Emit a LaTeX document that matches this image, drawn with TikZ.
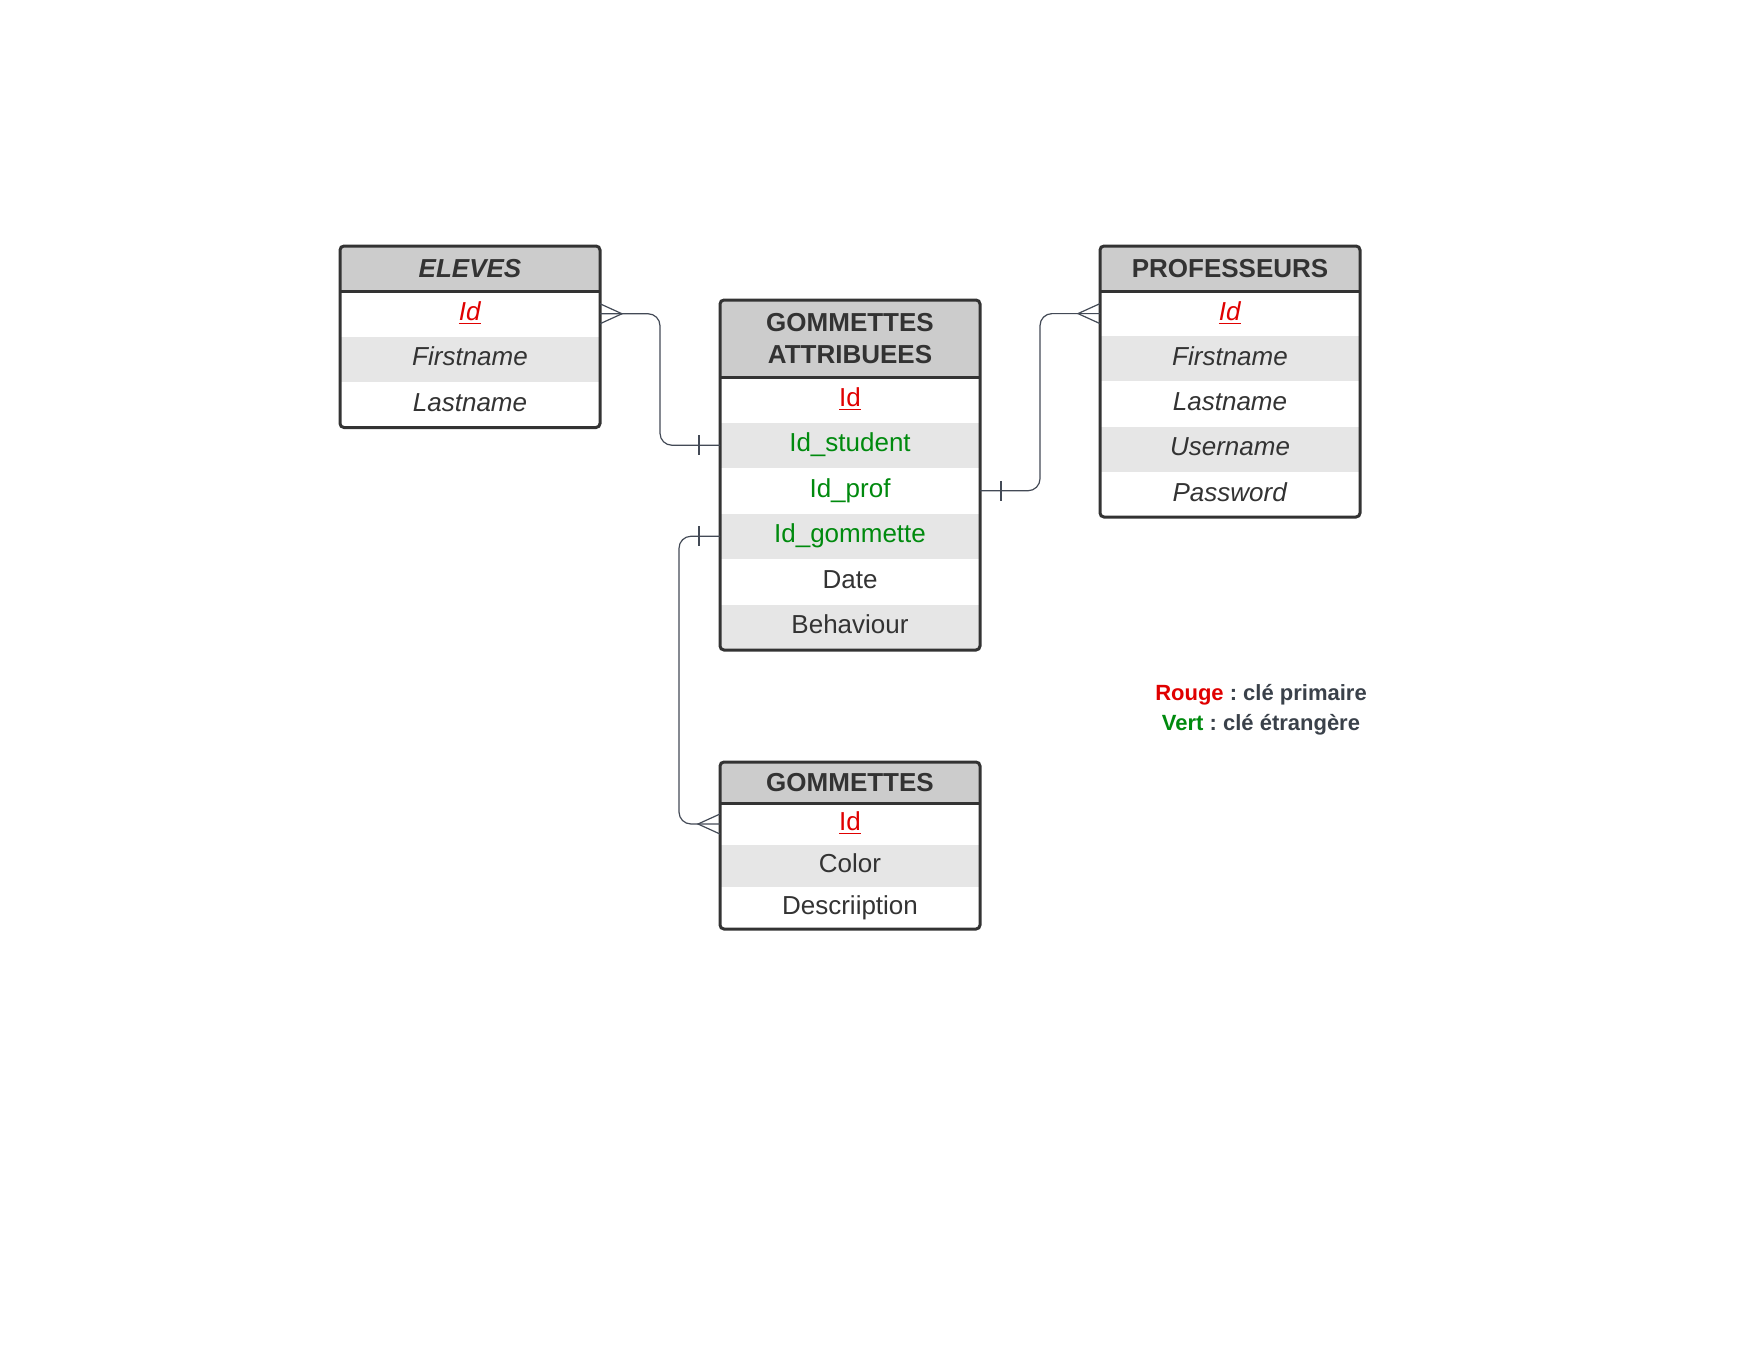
\documentclass[tikz,border=0pt]{standalone}
\usepackage{fontspec}
\setmainfont{Liberation Sans}
\usetikzlibrary{positioning}
\frenchspacing
\definecolor{txt}{HTML}{333333}
\definecolor{hdrgray}{HTML}{CCCCCC}
\definecolor{rowgray}{HTML}{E6E6E6}
\definecolor{boxline}{HTML}{333333}
\definecolor{connline}{HTML}{434A56}
\definecolor{keyred}{HTML}{E00000}
\definecolor{fkgreen}{HTML}{008A0E}
\definecolor{legtxt}{HTML}{3A414A}
\tikzset{
  hdr/.style={fill=hdrgray, text=txt, font=\fontsize{13}{16}\selectfont\bfseries,
    minimum width=130pt, minimum height=22.5pt, inner sep=0pt, outer sep=0pt,
    anchor=north west, align=center},
  fld/.style={fill=white, text=txt, font=\fontsize{13}{16}\selectfont,
    minimum width=130pt, minimum height=22.75pt, inner sep=0pt, outer sep=0pt,
    text height=9.6pt, text depth=2.9pt},
  fldalt/.style={fld, fill=rowgray},
  tblframe/.style={draw=boxline, line width=1.5pt, rounded corners=2pt},
  hdrline/.style={draw=boxline, line width=1.5pt},
  conn/.style={draw=connline, line width=0.6pt, rounded corners=6pt},
  crowfoot/.style={draw=connline, line width=0.6pt},
  onebar/.style={draw=connline, line width=0.6pt},
}
\begin{document}
\begin{tikzpicture}[x=0.5pt, y=-0.5pt]
\useasboundingbox (0,0) rectangle (1760,1360);

% ELEVES
\node[hdr, font=\fontsize{13}{16}\selectfont\bfseries\itshape] (el-h) at (340,246) {ELEVES};
\node[fld, text=keyred, below=0pt of el-h] (el-id) {\underline{\textit{Id}}};
\node[fldalt, below=0pt of el-id] (el-fn) {\textit{Firstname}};
\node[fld, below=0pt of el-fn] (el-ln) {\textit{Lastname}};
\draw[tblframe] (el-h.north west) rectangle (el-ln.south east);
\draw[hdrline] (el-h.south west) -- (el-h.south east);

% GOMMETTES ATTRIBUEES
\node[hdr, minimum height=38.5pt] (ga-h) at (720,300) {GOMMETTES\\ATTRIBUEES};
\node[fld, text=keyred, below=0pt of ga-h] (ga-id) {\underline{Id}};
\node[fldalt, text=fkgreen, below=0pt of ga-id] (ga-stu) {Id\_student};
\node[fld, text=fkgreen, below=0pt of ga-stu] (ga-prof) {Id\_prof};
\node[fldalt, text=fkgreen, below=0pt of ga-prof] (ga-gom) {Id\_gommette};
\node[fld, below=0pt of ga-gom] (ga-date) {Date};
\node[fldalt, below=0pt of ga-date] (ga-beh) {Behaviour};
\draw[tblframe] (ga-h.north west) rectangle (ga-beh.south east);
\draw[hdrline] (ga-h.south west) -- (ga-h.south east);

% PROFESSEURS
\node[hdr] (pr-h) at (1100,246) {PROFESSEURS};
\node[fld, text=keyred, minimum height=22.6pt, below=0pt of pr-h] (pr-id) {\underline{\textit{Id}}};
\node[fldalt, minimum height=22.6pt, below=0pt of pr-id] (pr-fn) {\textit{Firstname}};
\node[fld, minimum height=22.6pt, below=0pt of pr-fn] (pr-ln) {\textit{Lastname}};
\node[fldalt, minimum height=22.6pt, below=0pt of pr-ln] (pr-un) {\textit{Username}};
\node[fld, minimum height=22.6pt, below=0pt of pr-un] (pr-pw) {\textit{Password}};
\draw[tblframe] (pr-h.north west) rectangle (pr-pw.south east);
\draw[hdrline] (pr-h.south west) -- (pr-h.south east);

% GOMMETTES
\node[hdr, minimum height=20.5pt] (go-h) at (720,762) {GOMMETTES};
\node[fld, text=keyred, minimum height=21pt, below=0pt of go-h] (go-id) {\underline{Id}};
\node[fldalt, minimum height=21pt, below=0pt of go-id] (go-col) {Color};
\node[fld, minimum height=21pt, below=0pt of go-col] (go-desc) {Descriiption};
\draw[tblframe] (go-h.north west) rectangle (go-desc.south east);
\draw[hdrline] (go-h.south west) -- (go-h.south east);

% relations
\draw[conn] (el-id.east) -- ++(60,0) |- (ga-stu.west);
\draw[crowfoot] (el-id.east) ++(0,-10) -- ++(22,10) -- ++(-22,10);
\draw[onebar] (ga-stu.west) ++(-21,-10) -- ++(0,20);

\draw[conn] (ga-prof.east) -- ++(60,0) |- (pr-id.west);
\draw[onebar] (ga-prof.east) ++(21,-10) -- ++(0,20);
\draw[crowfoot] (pr-id.west) ++(0,-10) -- ++(-22,10) -- ++(22,10);

\draw[conn] (ga-gom.west) -- ++(-41,0) |- (go-id.west);
\draw[onebar] (ga-gom.west) ++(-21,-10) -- ++(0,20);
\draw[crowfoot] (go-id.west) ++(0,-10) -- ++(-22,10) -- ++(22,10);

% legend
\node[font=\fontsize{11}{15}\selectfont\bfseries, text=legtxt, align=center] (legend) at (1261,710)
  {\textcolor{keyred}{Rouge} : clé primaire\\\textcolor{fkgreen}{Vert} : clé étrangère};
\end{tikzpicture}
\end{document}
